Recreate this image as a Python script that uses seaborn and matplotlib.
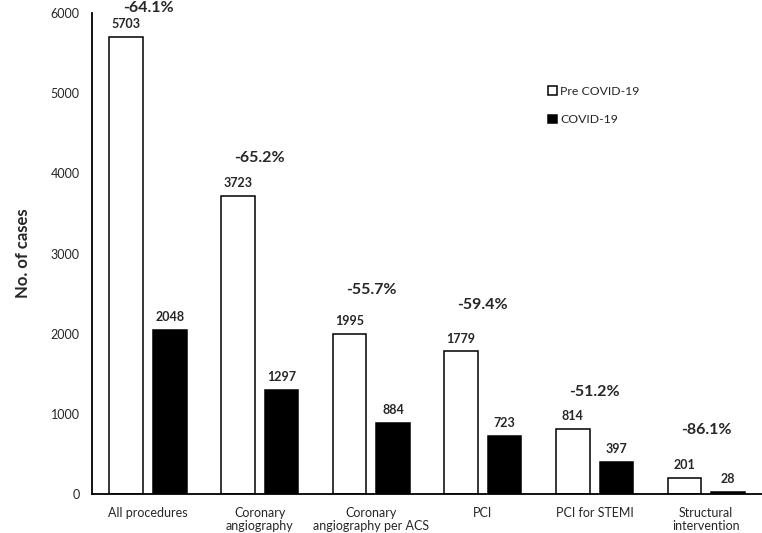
import seaborn as sns
import pandas as pd
import matplotlib.pyplot as plt

categories = ["All procedures", "Coronary\nangiography", "Coronary\nangiography per ACS",
              "PCI", "PCI for STEMI", "Structural\nintervention"]
pre_covid = [5703, 3723, 1995, 1779, 814, 201]
covid = [2048, 1297, 884, 723, 397, 28]
pct_labels = ["-64.1%", "-65.2%", "-55.7%", "-59.4%", "-51.2%", "-86.1%"]
pct_y = [6060, 4190, 2540, 2360, 1275, 800]

df = pd.DataFrame({
    "procedure": categories * 2,
    "cases": pre_covid + covid,
    "period": ["Pre COVID-19"] * 6 + ["COVID-19"] * 6,
})

sns.set_theme(style="white")
plt.rcParams["font.family"] = ["Lato", "DejaVu Sans"]

fig, ax = plt.subplots(figsize=(7.62, 5.33), dpi=100)
fig.subplots_adjust(left=0.121, right=1.0, bottom=0.073, top=0.9756)

sns.barplot(data=df, x="procedure", y="cases", hue="period",
            palette={"Pre COVID-19": "white", "COVID-19": "black"},
            edgecolor="black", linewidth=1.1, width=0.78, gap=0.23,
            order=categories, hue_order=["Pre COVID-19", "COVID-19"], ax=ax)

# value labels on top of bars
for cont, vals in zip(ax.containers, [pre_covid, covid]):
    ax.bar_label(cont, labels=[str(v) for v in vals], padding=5,
                 fontsize=9, fontweight="bold")

# percent change per group
for i, (txt, y) in enumerate(zip(pct_labels, pct_y)):
    ax.text(i, y, txt, ha="center", va="center", fontsize=11.5,
            fontweight="bold", clip_on=False)

ax.set_ylim(0, 6000)
ax.set_xlim(-0.5, 5.5)
ax.set_yticks(range(0, 6001, 1000))
ax.set_xlabel("")
ax.set_ylabel("No. of cases", fontsize=12, fontweight="bold", labelpad=14)
ax.tick_params(axis="x", length=0, pad=9, labelsize=9)
ax.tick_params(axis="y", length=0, pad=9, labelsize=9)
for lab in ax.get_xticklabels():
    lab.set_linespacing(1.1)

sns.despine(ax=ax)
for s in ["left", "bottom"]:
    ax.spines[s].set_color("black")
    ax.spines[s].set_linewidth(1.3)

ax.legend(loc="upper left", bbox_to_anchor=(0.664, 0.872), frameon=False,
          fontsize=8.8, handlelength=0.7, handleheight=0.7, handletextpad=0.3,
          labelspacing=1.45)

plt.savefig("out.png", dpi=100)
